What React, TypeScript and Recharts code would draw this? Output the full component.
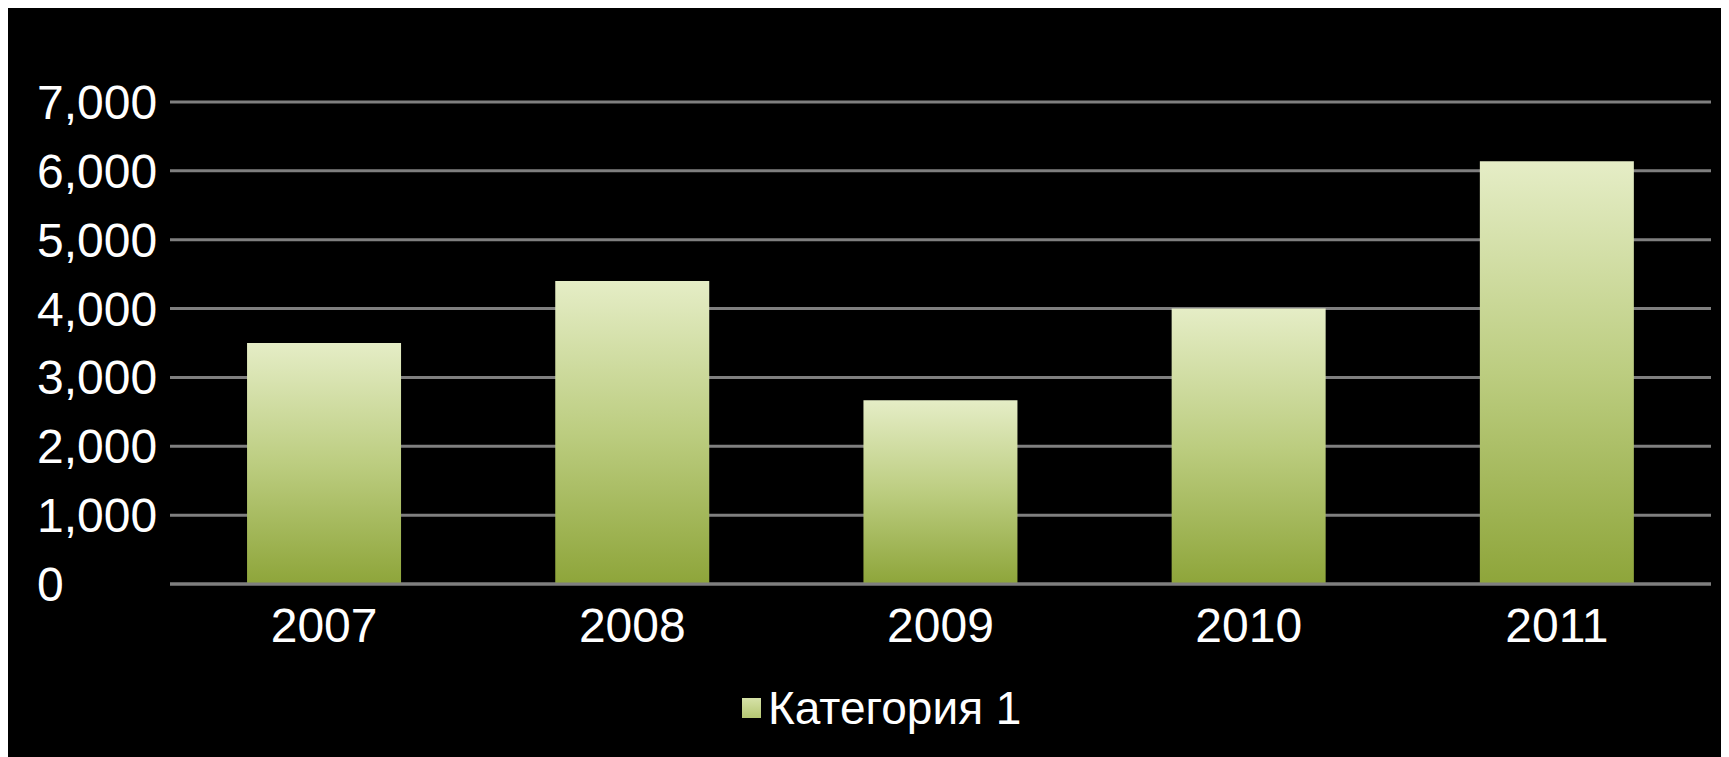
import React from 'react';
import { BarChart, Bar, XAxis, YAxis, CartesianGrid, Legend } from 'recharts';

const years = ['2007', '2008', '2009', '2010', '2011'];
const values = [3500, 4400, 2670, 4000, 6140];
const yTicks = [0, 1000, 2000, 3000, 4000, 5000, 6000, 7000];
const seriesName = 'Категория 1';

const data = years.map((y, i) => ({ year: y, value: values[i] }));

const FONT = '"Liberation Sans", Arial, sans-serif';
const GRID = '#7f7f7f';

const LegendContent = () => (
  <div style={{ width: 1721, height: 50, position: 'relative', fontFamily: FONT }}>
    <div style={{ position: 'absolute', left: 734, top: 0, height: 50, display: 'flex', alignItems: 'center' }}>
      <div style={{ width: 19, height: 20, background: 'linear-gradient(#d6e2a8, #b5c772)', marginRight: 7 }} />
      <span style={{ color: '#ffffff', fontSize: 46, lineHeight: '50px' }}>{seriesName}</span>
    </div>
  </div>
);

const YTick = (props: any) => {
  const { x, y, payload } = props;
  return (
    <text
      x={x - 118}
      y={y}
      dy="0.355em"
      textAnchor="start"
      fill="#ffffff"
      fontSize={48}
      fontFamily={FONT}
    >
      {Number(payload.value).toLocaleString('en-US')}
    </text>
  );
};

export default function App() {
  return (
    <div style={{ width: 1721, height: 749, background: '#000000' }}>
      <BarChart
        width={1721}
        height={749}
        data={data}
        margin={{ top: 94, right: 18, left: 0, bottom: 24 }}
        barCategoryGap="25%"
      >
        <defs>
          <linearGradient id="barGrad" x1="0" y1="0" x2="0" y2="1">
            <stop offset="0%" stopColor="#e5edc6" />
            <stop offset="50%" stopColor="#bccd80" />
            <stop offset="100%" stopColor="#8ea53a" />
          </linearGradient>
        </defs>
        <CartesianGrid vertical={false} stroke={GRID} strokeWidth={3} />
        <XAxis
          dataKey="year"
          height={99}
          axisLine={{ stroke: GRID, strokeWidth: 3 }}
          tickLine={false}
          tickSize={8}
          tickMargin={16}
          tick={{ fill: '#ffffff', fontSize: 48, fontFamily: FONT }}
        />
        <YAxis
          width={162}
          domain={[0, 7000]}
          ticks={yTicks}
          axisLine={false}
          tickLine={false}
          tickSize={7}
          tickMargin={8}
          tick={<YTick />}
        />
        <Legend verticalAlign="bottom" height={50} content={<LegendContent />} />
        <Bar dataKey="value" name={seriesName} fill="url(#barGrad)" isAnimationActive={false} />
      </BarChart>
    </div>
  );
}
